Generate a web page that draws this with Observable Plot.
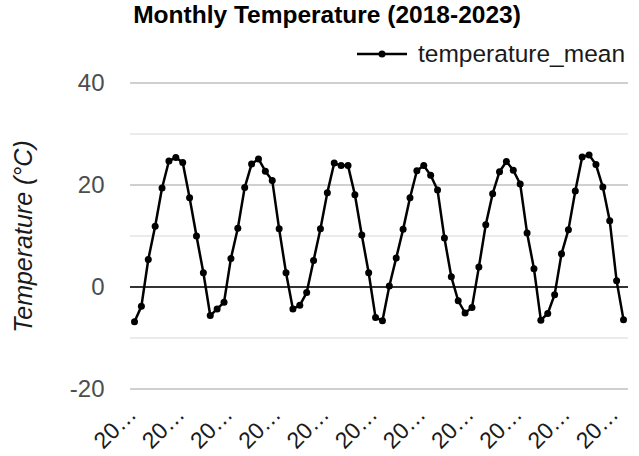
<!DOCTYPE html>
<html>
<head>
<meta charset="utf-8">
<script src="https://cdn.jsdelivr.net/npm/d3@7"></script>
<script src="https://cdn.jsdelivr.net/npm/@observablehq/plot@0.6"></script>
<style>
  body { margin: 0; background: #fff; font-family: "Liberation Sans", Arial, sans-serif; }
  #wrap { position: relative; width: 639px; height: 456px; overflow: hidden; }
  #title { position: absolute; top: 0px; left: 0; width: 654px; text-align: center; font-weight: bold; font-size: 24.5px; line-height: 30px; color: #000; }
  #legend { position: absolute; top: 40px; left: 356px; height: 28px; display: flex; align-items: center; font-size: 24.5px; color: #1a1a1a; }
  #legend svg { margin-right: 10px; }
  #chart { position: absolute; top: 70px; left: 0; }
</style>
</head>
<body>
<div id="wrap">
  <div id="title">Monthly Temperature (2018-2023)</div>
  <div id="legend"><svg width="52" height="12"><line x1="1" y1="6" x2="51" y2="6" stroke="#000" stroke-width="2.5"/><circle cx="26" cy="6" r="3.5" fill="#000"/></svg><span>temperature_mean</span></div>
  <div id="chart"></div>
</div>
<script>
const years = [2018, 2019, 2020, 2021, 2022, 2023];
const monthNums = ["01","02","03","04","05","06","07","08","09","10","11","12"];
const temp2018 = [-6.7, -3.7, 5.5, 12.0, 19.5, 24.8, 25.5, 24.5, 17.6, 10.1, 2.9, -5.5];
const temp2019 = [-4.2, -2.9, 5.7, 11.6, 19.6, 24.2, 25.2, 22.8, 21.0, 11.5, 2.9, -4.2];
const temp2020 = [-3.5, -1.0, 5.3, 11.5, 18.6, 24.4, 23.9, 23.9, 18.2, 10.3, 2.9, -5.9];
const temp2021 = [-6.5, 0.3, 5.8, 11.4, 17.6, 22.9, 23.9, 22.0, 19.1, 9.7, 2.1, -2.6];
const temp2022 = [-5.0, -3.9, 4.0, 12.3, 18.4, 22.7, 24.7, 23.0, 20.3, 10.7, 3.7, -6.4];
const temp2023 = [-5.1, -1.4, 6.6, 11.3, 18.9, 25.6, 26.0, 24.1, 19.7, 13.1, 1.3, -6.3];
const yTicks = [-20, 0, 20, 40];
const majorGrid = [-20, 20, 40];
const minorGrid = [-10, 10, 30];
const zeroLine = [0];
const yLabel = [{text: "Temperature (\u00B0C)", at: 10}];

const series = [temp2018, temp2019, temp2020, temp2021, temp2022, temp2023];
const data = [];
years.forEach((yr, i) => monthNums.forEach((m, j) => data.push({month: `${yr}-${m}`, temperature_mean: series[i][j]})));
const months = data.map(d => d.month);
const xTicks = months.filter((d, i) => i % 7 === 0);

const chart = Plot.plot({
  width: 639,
  height: 386,
  marginLeft: 130,
  marginRight: 11,
  marginTop: 0,
  marginBottom: 50,
  style: {fontFamily: "Liberation Sans, Arial, sans-serif", background: "#fff"},
  x: {type: "point", domain: months, range: [134, 623], padding: 0},
  y: {domain: [-20, 40], range: [319, 13]},
  marks: [
    Plot.ruleY(minorGrid, {stroke: "#ebebeb", strokeWidth: 2, dy: -0.5}),
    Plot.ruleY(majorGrid, {stroke: "#d0d0d0", strokeWidth: 2, dy: -0.5}),
    Plot.ruleY(zeroLine, {stroke: "#333", strokeWidth: 2, dy: -0.5}),
    Plot.axisY({ticks: yTicks, tickSize: 0, tickPadding: 26, fontSize: 24, fill: "#4d4d4d", label: null, tickFormat: d => String(d)}),
    Plot.axisX({ticks: xTicks, tickSize: 0, tickPadding: 4, tickRotate: -45, fontSize: 23, fill: "#1a1a1a", tickFormat: () => "20\u2026", label: null, dx: -2}),
    Plot.text(yLabel, {text: "text", y: "at", frameAnchor: "left", textAnchor: "middle", lineAnchor: "middle", rotate: -90, dx: -107, fontSize: 25, fontStyle: "italic", fill: "#1a1a1a"}),
    Plot.line(data, {x: "month", y: "temperature_mean", stroke: "#000", strokeWidth: 2.5}),
    Plot.dot(data, {x: "month", y: "temperature_mean", fill: "#000", r: 3.5})
  ]
});
document.getElementById("chart").appendChild(chart);
</script>
</body>
</html>
